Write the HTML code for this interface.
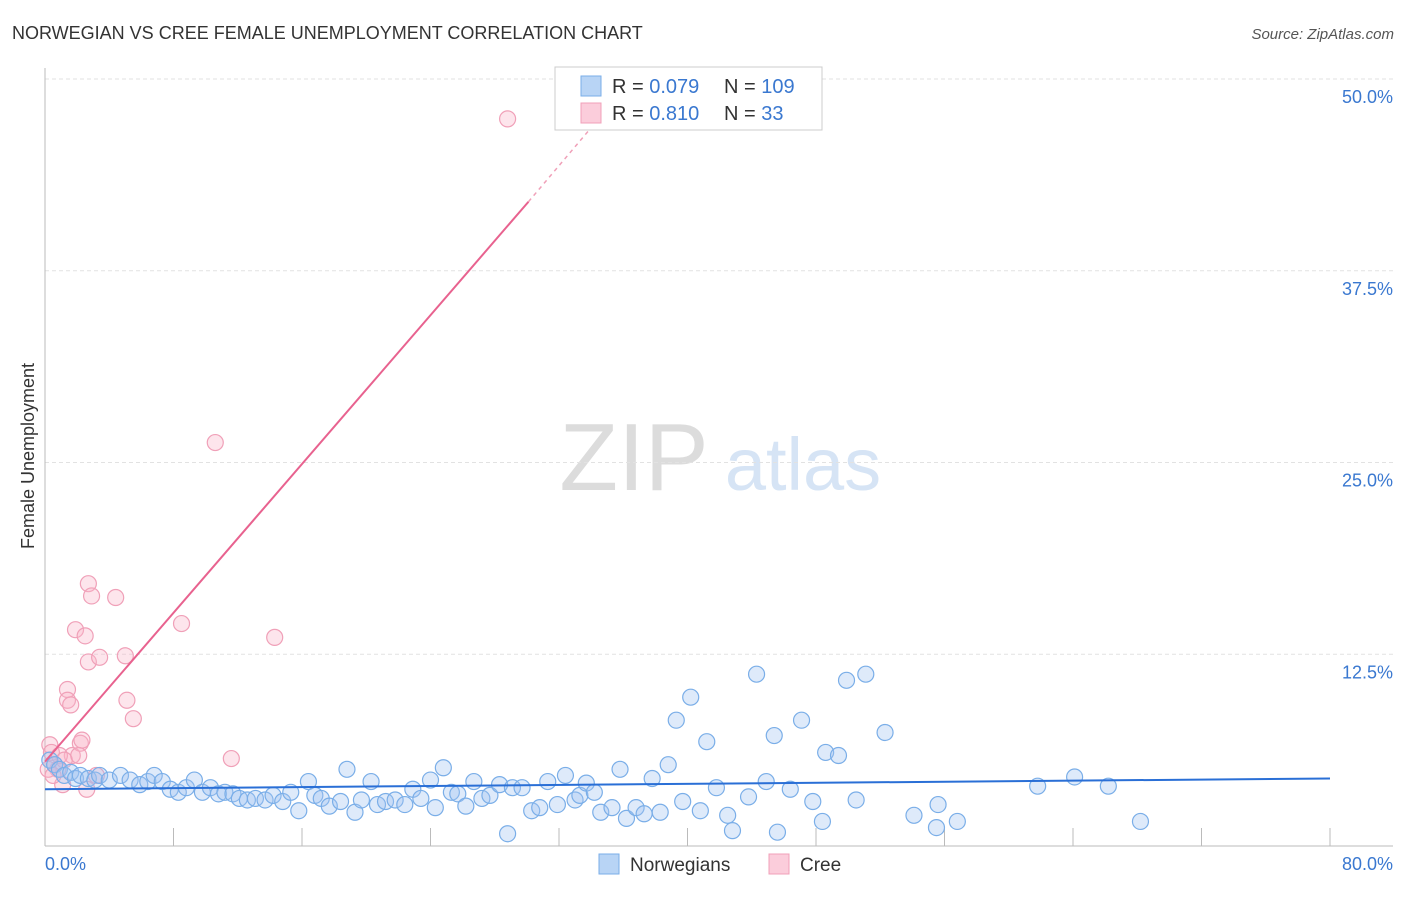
<!DOCTYPE html>
<html><head><meta charset="utf-8">
<style>
body{margin:0;background:#fff;font-family:"Liberation Sans",sans-serif;}
svg text{font-family:"Liberation Sans",sans-serif;}
</style></head>
<body>
<svg id="chart" width="1406" height="892" viewBox="0 0 1406 892" xmlns="http://www.w3.org/2000/svg">
<text x="12" y="39" font-size="18" fill="#333">NORWEGIAN VS CREE FEMALE UNEMPLOYMENT CORRELATION CHART</text>
<text x="1394" y="39" font-size="15" fill="#555" text-anchor="end" font-style="italic">Source: ZipAtlas.com</text>
<g>
<text x="634" y="490" font-size="96" fill="#dcdcdc" text-anchor="middle" font-family="Liberation Serif, serif">ZIP</text>
<text x="803" y="490" font-size="74" fill="#d6e4f5" text-anchor="middle">atlas</text>
</g>
<g id="grid"></g>
<g id="axes"></g>
<text transform="translate(34,456) rotate(-90)" font-size="18" fill="#333" text-anchor="middle">Female Unemployment</text>
<g id="marks"></g>
<g>
<rect x="555" y="67" width="267" height="63" fill="#fff" stroke="#ccc"/>
<rect x="581" y="76" width="20" height="20" fill="#b8d4f5" stroke="#7aaee8"/>
<rect x="581" y="103" width="20" height="20" fill="#fbcddb" stroke="#f0a0b8"/>
<text x="612" y="93" font-size="20" fill="#333">R = <tspan fill="#3a78d0">0.079</tspan></text>
<text x="724" y="93" font-size="20" fill="#333">N = <tspan fill="#3a78d0">109</tspan></text>
<text x="612" y="120" font-size="20" fill="#333">R = <tspan fill="#3a78d0"> 0.810</tspan></text>
<text x="724" y="120" font-size="20" fill="#333">N = <tspan fill="#3a78d0">  33</tspan></text>
</g>
<g>
<rect x="599" y="854" width="20" height="20" fill="#b8d4f5" stroke="#7aaee8"/>
<text x="630" y="871" font-size="19" fill="#333">Norwegians</text>
<rect x="769" y="854" width="20" height="20" fill="#fbcddb" stroke="#f0a0b8"/>
<text x="800" y="871" font-size="19" fill="#333">Cree</text>
</g>
</svg>
<script>
const yTicks=[12.5,25,37.5,50];
const yTickLabels=["12.5%","25.0%","37.5%","50.0%"];
const xTicks=[0,8,16,24,32,40,48,56,64,72,80];
const blueX=[0.3,0.6,0.9,1.2,1.6,1.9,2.2,2.7,3.1,3.4,4.0,4.7,5.3,5.9,6.4,6.8,7.3,7.8,8.3,8.8,9.3,9.8,10.3,10.8,11.2,11.7,12.1,12.6,13.1,13.7,14.2,14.8,15.3,15.8,16.4,16.8,17.2,17.7,18.4,18.8,19.3,19.7,20.3,20.7,21.2,21.8,22.4,22.9,23.4,24.0,24.3,24.8,25.3,25.7,26.2,26.7,27.2,27.7,28.3,28.8,29.1,29.7,30.3,30.8,31.3,31.9,32.4,33.0,33.3,33.7,34.2,34.6,35.3,35.8,36.2,36.8,37.3,37.8,38.3,38.8,39.3,39.7,40.2,40.8,41.2,41.8,42.5,42.8,43.8,44.3,44.9,45.4,45.6,46.4,47.1,47.8,48.4,48.6,49.4,49.9,50.5,51.1,52.3,54.1,55.5,55.6,56.8,61.8,64.1,66.2,68.2];
const blueY=[5.6,5.3,5.0,4.6,4.8,4.4,4.6,4.4,4.3,4.6,4.3,4.6,4.3,4.0,4.2,4.6,4.2,3.7,3.5,3.8,4.3,3.5,3.8,3.4,3.5,3.4,3.1,3.0,3.1,3.0,3.3,2.9,3.5,2.3,4.2,3.3,3.1,2.6,2.9,5.0,2.2,3.0,4.2,2.7,2.9,3.0,2.7,3.7,3.1,4.3,2.5,5.1,3.5,3.4,2.6,4.2,3.1,3.3,4.0,0.8,3.8,3.8,2.3,2.5,4.2,2.7,4.6,3.0,3.3,4.1,3.5,2.2,2.5,5.0,1.8,2.5,2.1,4.4,2.2,5.3,8.2,2.9,9.7,2.3,6.8,3.8,2.0,1.0,3.2,11.2,4.2,7.2,0.9,3.7,8.2,2.9,1.6,6.1,5.9,10.8,3.0,11.2,7.4,2.0,1.2,2.7,1.6,3.9,4.5,3.9,1.6];
const pinkX=[0.3,0.4,0.6,0.8,1.1,1.4,1.4,1.6,1.7,1.9,2.2,2.3,2.5,2.6,2.7,2.7,2.9,3.2,3.4,4.4,5.0,5.1,5.5,8.5,10.6,11.6,14.3,28.8,0.2,0.5,0.9,1.2,2.1];
const pinkY=[6.6,6.1,5.3,5.0,4.0,10.2,9.5,9.2,5.9,14.1,6.7,6.9,13.7,3.7,12.0,17.1,16.3,4.6,12.3,16.2,12.4,9.5,8.3,14.5,26.3,5.7,13.6,47.4,5.0,4.6,5.9,5.6,5.9];
const blueTrendX=[0,80];
const blueTrendY=[3.7,4.4];
const pinkTrendX=[0,30.1];
const pinkTrendY=[5.5,42.0];
const pinkDashX=[30.1,33.9];
const pinkDashY=[42.0,46.7];

const X=v=>45+v*(1285/80);
const Y=v=>846-v*15.34;
const NS="http://www.w3.org/2000/svg";
function mk(tag,attrs,parent){const e=document.createElementNS(NS,tag);for(const k in attrs)e.setAttribute(k,attrs[k]);parent.appendChild(e);return e;}
const grid=document.getElementById('grid'),axes=document.getElementById('axes'),marks=document.getElementById('marks');
yTicks.forEach((t,i)=>{
 const l=mk('line',{x1:45,x2:1393,y1:Y(t),y2:Y(t),stroke:'#e2e2e2','stroke-dasharray':'4,3'},grid);
 
 
 const tx=mk('text',{x:1393,y:Y(t)+24,'font-size':18,fill:'#3a78d0','text-anchor':'end'},axes);
 tx.textContent=yTickLabels[i];
 
 
});
const ax=mk('line',{x1:45,x2:45,y1:68,y2:846,stroke:'#bbb'},axes);


const bx=mk('line',{x1:45,x2:1393,y1:846,y2:846,stroke:'#bbb'},axes);


xTicks.forEach(t=>{
 const l=mk('line',{x1:X(t),x2:X(t),y1:828,y2:846,stroke:'#bbb'},axes);
 
 
});
const xl0=mk('text',{x:45,y:870,'font-size':18,fill:'#3a78d0'},axes);xl0.textContent='0.0%';


const xl1=mk('text',{x:1393,y:870,'font-size':18,fill:'#3a78d0','text-anchor':'end'},axes);xl1.textContent='80.0%';



pinkX.forEach((x,i)=>{
 const c=mk('circle',{cx:X(x),cy:Y(pinkY[i]),r:8,fill:'rgba(248,180,200,0.35)',stroke:'#f0a0b8','stroke-width':1.2},marks);
 
 
});
blueX.forEach((x,i)=>{
 const c=mk('circle',{cx:X(x),cy:Y(blueY[i]),r:8,fill:'rgba(160,196,240,0.35)',stroke:'#7aaee8','stroke-width':1.2},marks);
 
 
});
const bt=mk('line',{x1:X(blueTrendX[0]),y1:Y(blueTrendY[0]),x2:X(blueTrendX[1]),y2:Y(blueTrendY[1]),stroke:'#2a6fd6','stroke-width':2},marks);


const pt=mk('line',{x1:X(pinkTrendX[0]),y1:Y(pinkTrendY[0]),x2:X(pinkTrendX[1]),y2:Y(pinkTrendY[1]),stroke:'#e8628f','stroke-width':2},marks);


const pd=mk('line',{x1:X(pinkDashX[0]),y1:Y(pinkDashY[0]),x2:X(pinkDashX[1]),y2:Y(pinkDashY[1]),stroke:'#f0a0b8','stroke-width':1.5,'stroke-dasharray':'4,4'},marks);


</script>
</body></html>
